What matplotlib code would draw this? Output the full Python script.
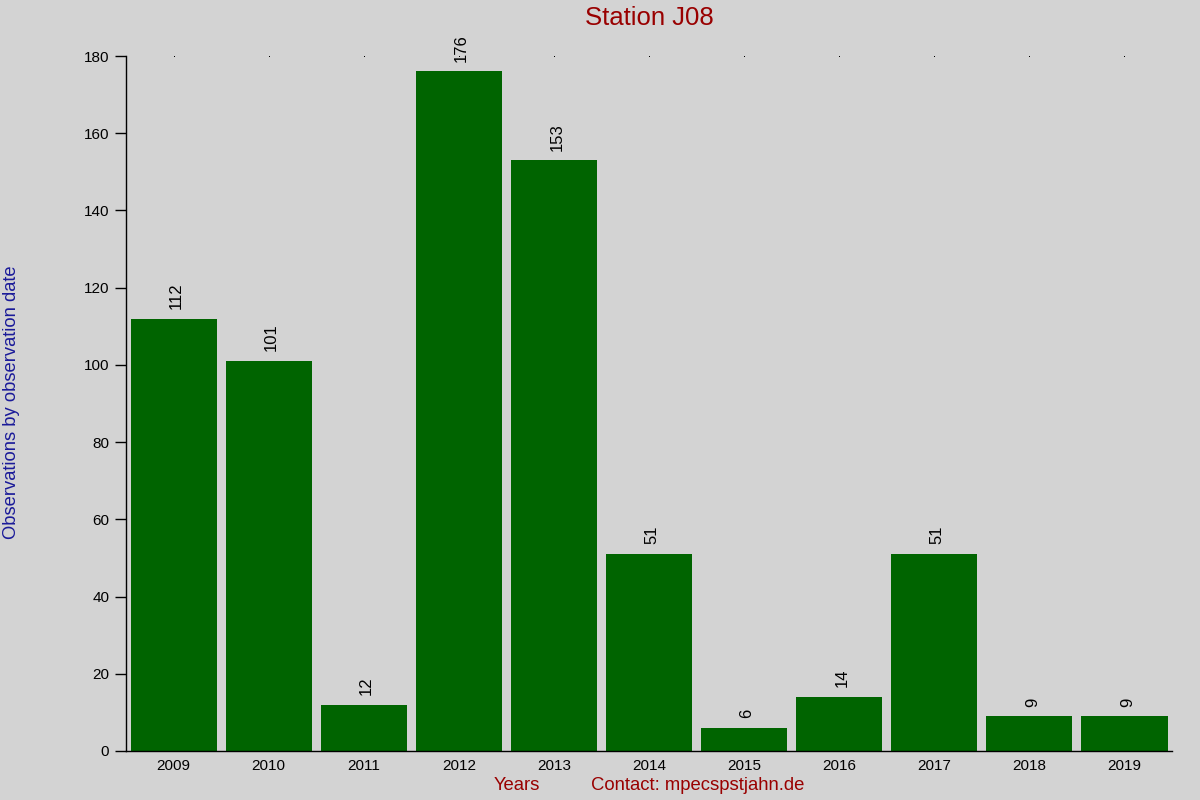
import matplotlib
matplotlib.use('Agg')
import matplotlib.pyplot as plt
import numpy as np

# Observations per year for station J08
years = ['2009', '2010', '2011', '2012', '2013', '2014', '2015', '2016', '2017', '2018', '2019']
counts = [112, 101, 12, 176, 153, 51, 6, 14, 51, 9, 9]

plt.rcParams['font.family'] = ['Liberation Sans', 'DejaVu Sans']

bg = '#d3d3d3'
fig = plt.figure(figsize=(12, 8), dpi=100, facecolor=bg)
ax = fig.add_axes([0.105, 0.06125, 0.8717, 0.86875], facecolor=bg)

x = np.arange(len(years))
bars = ax.bar(x, counts, width=0.905, color='#006400')

# value labels above bars, rotated
for xi, v in zip(x, counts):
    ax.text(xi + 0.03, v + 2.5, str(v), rotation=90, ha='center', va='bottom', fontsize=12, color='black')

# tiny dots along the top at each year position
ax.plot(x, [180] * len(x), linestyle='none', marker='s', markersize=0.7,
        markeredgewidth=0, color='black', clip_on=False)

ax.set_xlim(-0.5, 10.5)
ax.set_ylim(0, 180)
ax.set_xticks(x)
ax.set_xticklabels(years, fontsize=11)
ax.set_yticks(np.arange(0, 181, 20))
ax.tick_params(axis='y', labelsize=11, length=8, width=1, pad=4)
ax.tick_params(axis='x', length=0, pad=6)

for s in ['top', 'right']:
    ax.spines[s].set_visible(False)
ax.spines['left'].set_linewidth(1)
ax.spines['bottom'].set_linewidth(1)

fig.text(0.541, 0.977, 'Station J08', ha='center', va='center', fontsize=18.5, color='#990000')
fig.text(0.0095, 0.497, 'Observations by observation date', rotation=90, ha='center', va='center',
         fontsize=13.2, color='#1a1a99')
fig.text(0.431, 0.0175, 'Years', ha='center', va='center', fontsize=13.3, color='#990000')
fig.text(0.5817, 0.0175, 'Contact: mpecspstjahn.de', ha='center', va='center', fontsize=13.3, color='#990000')

fig.savefig('out.png', dpi=100, facecolor=bg)
